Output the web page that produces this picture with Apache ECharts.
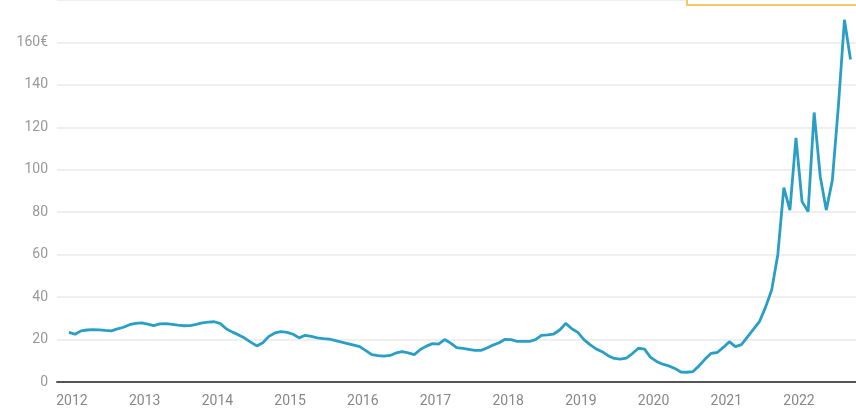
<!DOCTYPE html>
<html>
<head>
<meta charset="utf-8">
<script src="https://cdn.jsdelivr.net/npm/echarts@6/dist/echarts.min.js"></script>
<style>
html,body{margin:0;padding:0;background:#fff;}
#chart{width:856px;height:410px;}
</style>
</head>
<body>
<div id="chart"></div>
<script>
// Monthly series, first month Dec 2011, last month Sep 2022
const startYear = 2011;
const startMonth = 12;
const values = [
  23.4, 22.5, 24.1, 24.5, 24.7, 24.6, 24.3, 24.1, 25.0, 25.8, 27.0, 27.6, 27.9,
  27.3, 26.6, 27.4, 27.5, 27.2, 26.8, 26.5, 26.6, 27.2, 27.9, 28.2, 28.4,
  27.5, 25.0, 23.5, 22.2, 20.7, 18.8, 17.0, 18.5, 21.5, 23.1, 23.7, 23.4,
  22.5, 20.8, 22.0, 21.5, 20.8, 20.4, 20.2, 19.5, 18.8, 18.1, 17.4, 16.7,
  14.8, 12.9, 12.4, 12.2, 12.5, 13.7, 14.3, 13.7, 12.9, 15.3, 16.9, 18.1,
  17.8, 20.0, 18.3, 16.2, 15.8, 15.4, 14.9, 14.9, 16.0, 17.4, 18.5, 20.1,
  20.0, 19.1, 19.1, 19.1, 20.0, 22.0, 22.2, 22.6, 24.5, 27.6, 25.1, 23.4,
  20.0, 17.6, 15.6, 14.3, 12.4, 11.1, 10.8, 11.3, 13.4, 15.9, 15.5, 11.6,
  9.7, 8.4, 7.6, 6.4, 4.7, 4.6, 4.9, 7.6, 10.8, 13.5, 13.9, 16.3,
  19.0, 16.7, 17.6, 21.3, 24.9, 28.6, 35.4, 43.5, 60, 91.6, 81, 115,
  85, 80.3, 127, 97, 81, 95, 130, 170.7, 152
];
const yearLabels = [2012, 2013, 2014, 2015, 2016, 2017, 2018, 2019, 2020, 2021, 2022];
const yTicks = [0, 20, 40, 60, 80, 100, 120, 140, 160];

// month positions (mid-month, in decimal years)
const points = values.map((v, i) => {
  const m0 = startMonth - 1 + i;
  const y = startYear + Math.floor(m0 / 12);
  const m = m0 % 12;
  return [y + (m + 0.5) / 12, v];
});

const chart = echarts.init(document.getElementById('chart'), null, {renderer: 'canvas'});
chart.setOption({
  animation: false,
  backgroundColor: '#ffffff',
  grid: {left: 57, right: 0, top: -5, bottom: 28, containLabel: false},
  xAxis: {
    type: 'value',
    min: 2011.794,
    max: 2022.784,
    axisLine: {show: true, lineStyle: {color: '#555', width: 2}},
    axisTick: {show: false},
    splitLine: {show: false},
    axisLabel: {
      customValues: yearLabels,
      formatter: v => String(Math.round(v)),
      color: '#888',
      fontFamily: 'Roboto',
      fontSize: 14,
      margin: 12
    }
  },
  yAxis: {
    type: 'value',
    min: 0,
    max: 180,
    interval: 20,
    axisLine: {show: false},
    axisTick: {show: false},
    splitLine: {lineStyle: {color: '#efefef', width: 2}},
    axisLabel: {
      showMaxLabel: false,
      color: '#999',
      fontFamily: 'Roboto',
      fontSize: 14,
      margin: 9,
      formatter: v => (v === yTicks[yTicks.length - 1] ? v + '€' : String(v))
    }
  },
  series: [{
    type: 'line',
    data: points,
    showSymbol: false,
    smooth: false,
    lineStyle: {color: '#2a9fc6', width: 2.8},
    itemStyle: {color: '#2a9fc6'}
  }],
  graphic: [{
    type: 'rect',
    shape: {x: 687, y: -10, width: 200, height: 15},
    style: {fill: '#ffffff', stroke: '#f8c766', lineWidth: 2},
    z: 100
  }]
});
</script>
</body>
</html>
